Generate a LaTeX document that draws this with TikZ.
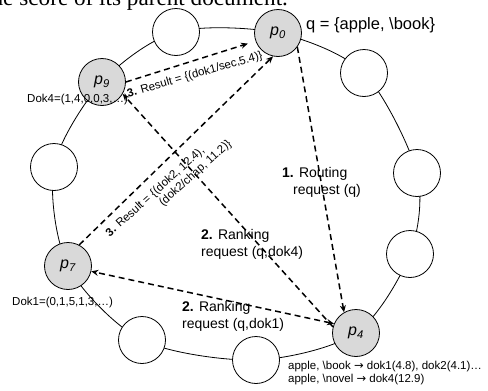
\documentclass[tikz,border=0pt]{standalone}
\usepackage{fontspec}
\setmainfont{Liberation Sans}
\newfontfamily\serifface{Liberation Serif}
\newfontfamily\arrowface{DejaVu Sans}
\usepackage{xcolor}
\usetikzlibrary{arrows.meta}
\usetikzlibrary{backgrounds}
\definecolor{hitgray}{HTML}{D9D9D9}

\begin{document}
\begin{tikzpicture}[x=1pt,y=-1pt,
		peer/.style={circle,draw,line width=0.8pt,fill=white,minimum size=47pt,inner sep=0pt,
			font=\fontsize{16}{19}\selectfont\itshape},
		hit/.style={peer,fill=hitgray},
		>={Stealth[length=7pt,width=6pt]},
		msg/.style={->,line width=1.5pt,dash pattern=on 6pt off 4pt},
		small/.style={font=\fontsize{11.5}{13}\selectfont,inner sep=0pt},
		lbl/.style={font=\fontsize{14}{17}\selectfont,inner sep=0pt,align=left}]
	\useasboundingbox (0,0) rectangle (488,391);
	\clip (0,0) rectangle (488,391);
	
	\node[font=\serifface\fontsize{23.2}{26}\selectfont,inner sep=0pt,anchor=base west] (head) at (-15,5)
		{the score of its parent document.};
	
	% peers on the ring
	\node[hit]  (p0) at (278,33)  {p\textsubscript{0}};
	\node[peer] (c7) at (364,73)  {};
	\node[peer] (c6) at (417,173) {};
	\node[peer] (c5) at (410,254) {};
	\node[hit]  (p4) at (356,333) {p\textsubscript{4}};
	\node[peer] (c4) at (256,360) {};
	\node[peer] (c3) at (142,340) {};
	\node[hit]  (p7) at (68,266)  {p\textsubscript{7}};
	\node[peer] (c2) at (54,167)  {};
	\node[hit]  (p9) at (102,82)  {p\textsubscript{9}};
	\node[peer] (c1) at (176,32)  {};
	
	\begin{scope}[on background layer]
		\draw[line width=0.8pt] plot[smooth cycle] coordinates
			{(p0) (c7) (c6) (c5) (p4) (c4) (c3) (p7) (c2) (p9) (c1)};
	\end{scope}
	
	% messages
	\draw[msg] (p0.-36) -- (p4.120);
	\draw[msg] (p4.165) -- (p9.-30);
	\draw[msg,<->] (p4.157) -- (p7.-13);
	\draw[msg] (p7.62) -- (p0.258);
	\draw[msg,shorten >=8pt] (p9.east) -- (p0.200);
	
	\node[font=\fontsize{16.5}{19}\selectfont,inner sep=0pt,anchor=west] (query) at (306,25)
		{q = \{apple, \textbackslash book\}};
	\node[lbl,anchor=west] (route) at (282,182) {\textbf{1.} Routing\\\hspace*{11pt}request (q)};
	\node[lbl,anchor=west] (rank4) at (201,244) {\textbf{2.} Ranking\\request (q,dok4)};
	\node[lbl,anchor=west] (rank1) at (182,316) {\textbf{2.} Ranking\\request (q,dok1)};
	\node[small,rotate=16] (res9) at (195,75) {\textbf{3.} Result = \{(dok1/sec,5.4)\}};
	\node[small,rotate=42,anchor=north west,align=left] (res7) at (104,231)
		{\textbf{3.} Result = \{(dok2, 12.4),\\\hspace*{60pt}(dok2/chap, 11.2)\}};
	\node[small,anchor=west] (dok4) at (27,100) {Dok4=(1,4,0,0,3,…)};
	\node[small,anchor=west] (dok1) at (12,303) {Dok1=(0,1,5,1,3,…)};
	\node[small,anchor=west,align=left] (index) at (288,373.5)
		{apple, \textbackslash book {\arrowface →} dok1(4.8), dok2(4.1)…\\
		 apple, \textbackslash novel {\arrowface →} dok4(12.9)};
\end{tikzpicture}
\end{document}
